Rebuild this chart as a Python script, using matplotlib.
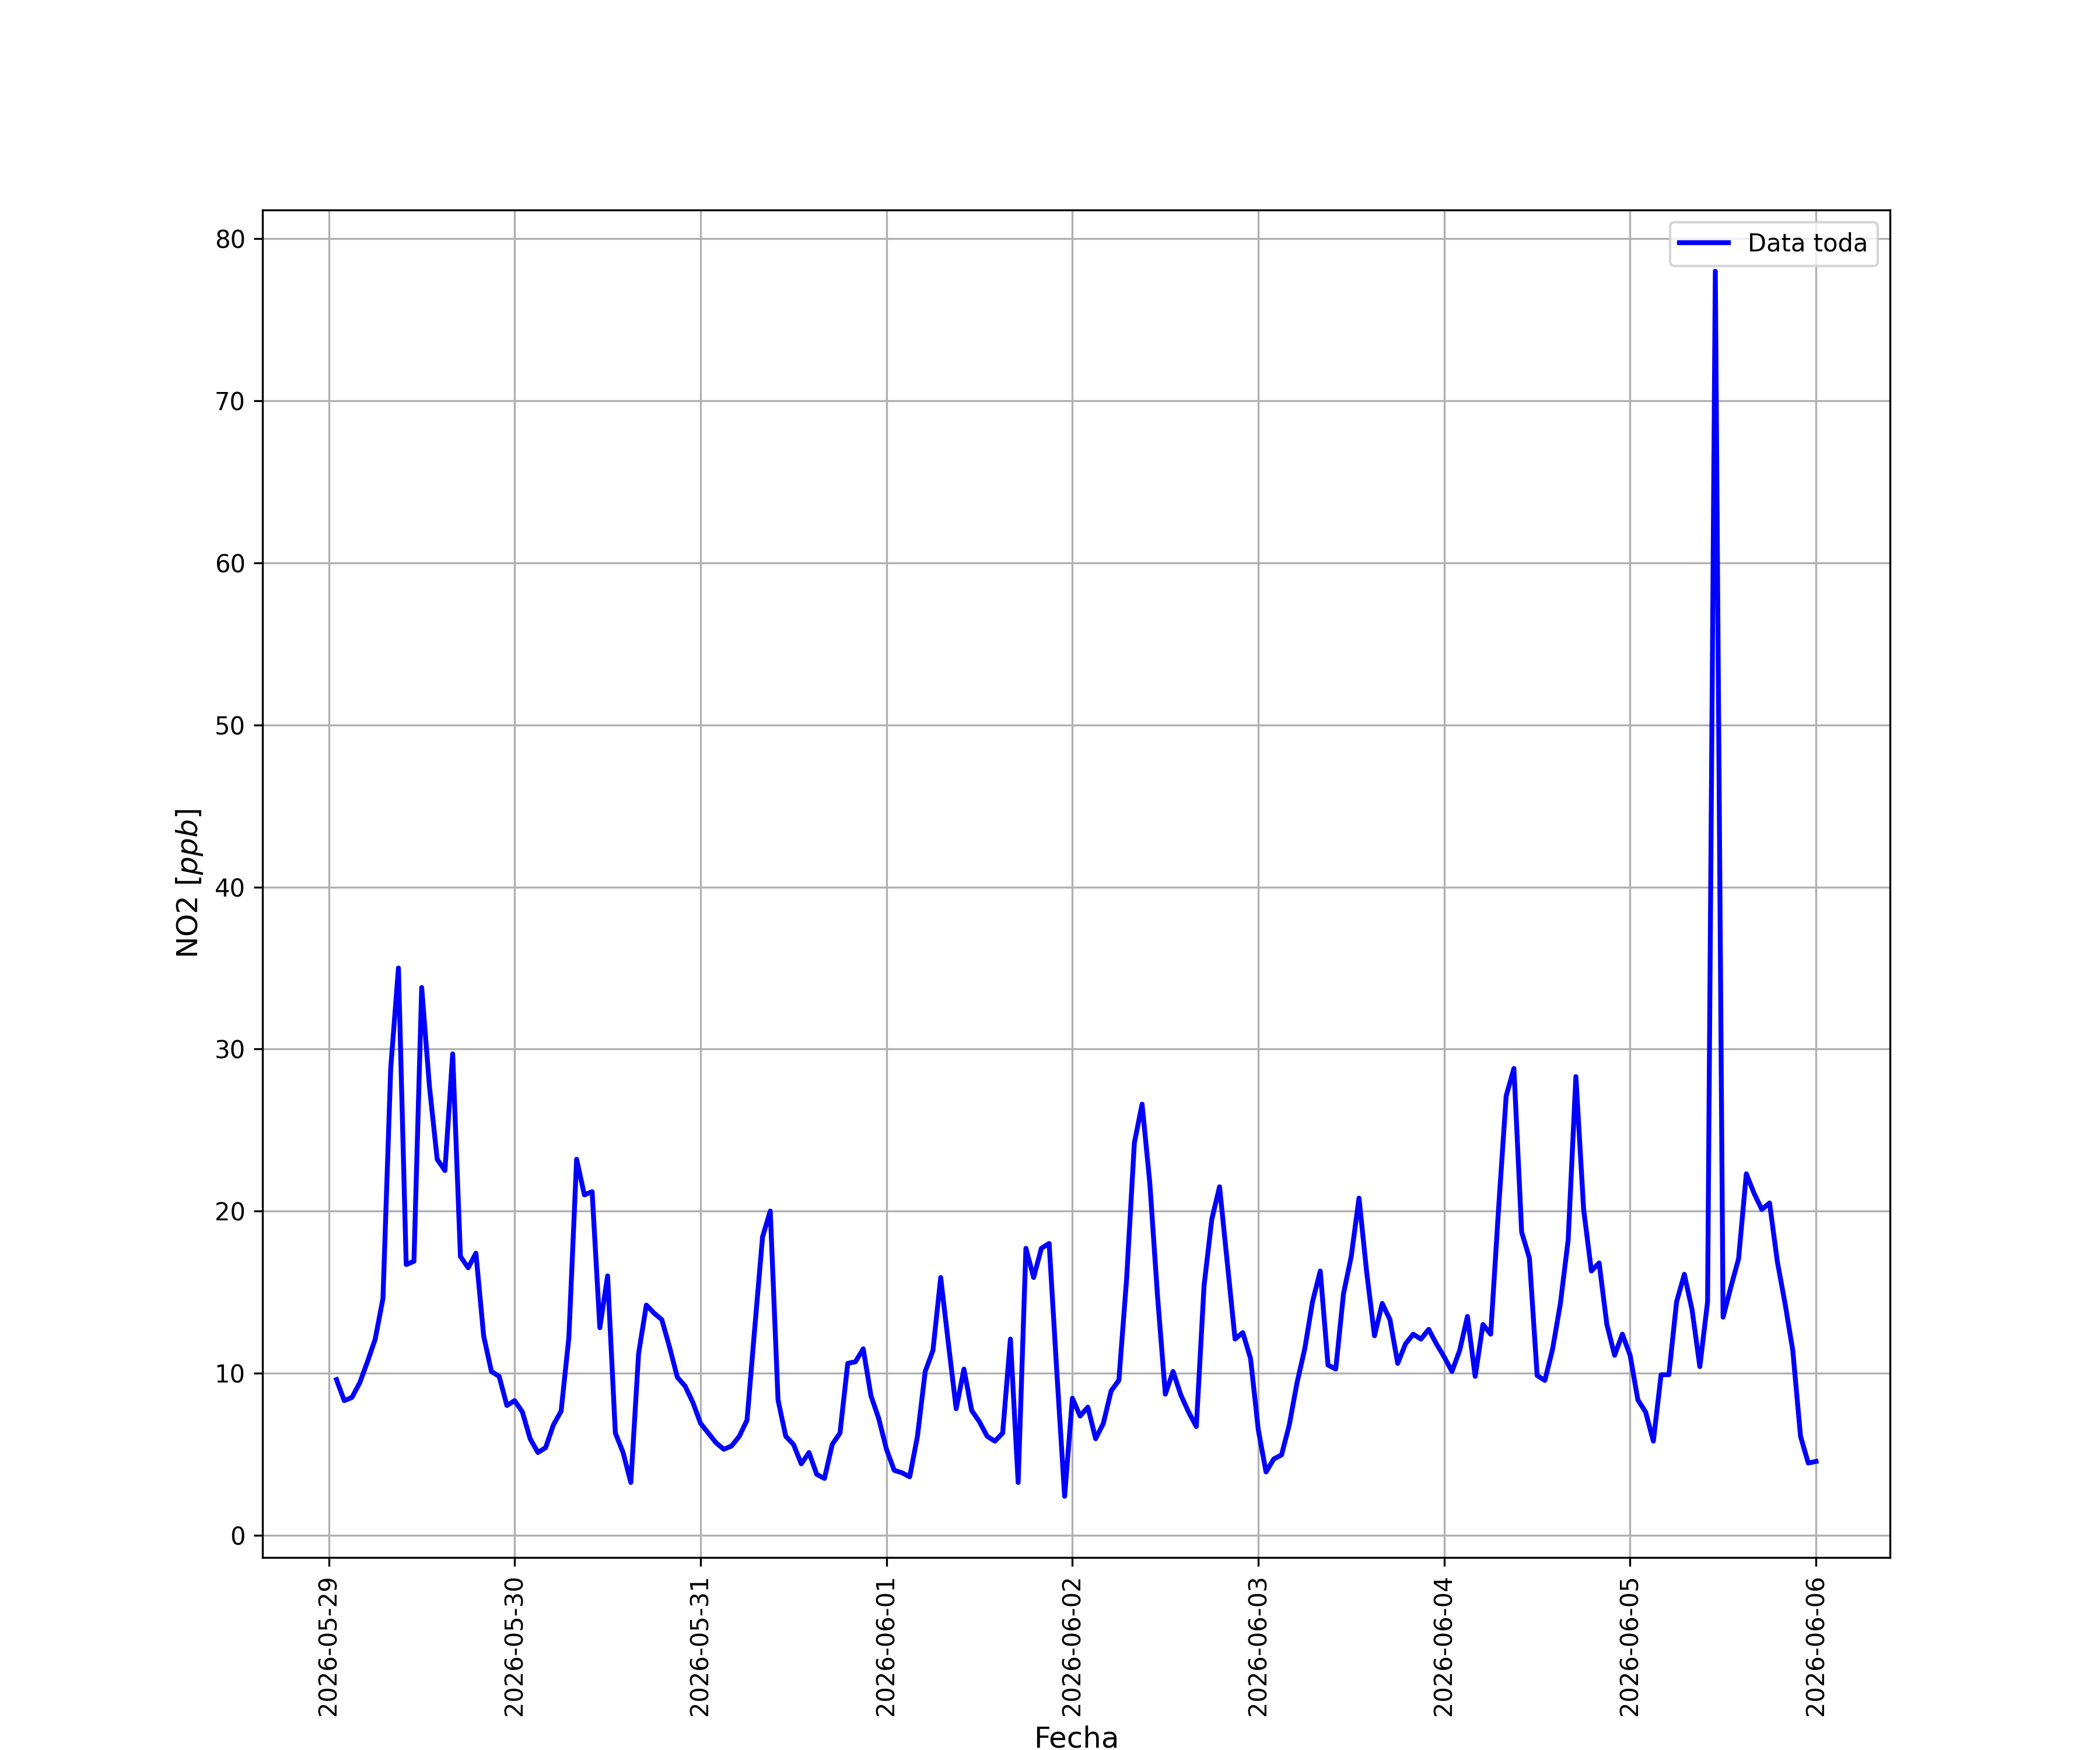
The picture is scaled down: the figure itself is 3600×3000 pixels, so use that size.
import matplotlib
matplotlib.use("Agg")
import matplotlib.pyplot as plt
import matplotlib.dates as mdates
import pandas as pd

# NO2 hourly values (ppb), one list per day, starting 2026-05-29 01:00
dia_0529 = [9.6, 8.3, 8.5, 9.4, 10.7, 12.1, 14.6, 28.8, 35.0, 16.7, 16.9, 33.8,
            27.7, 23.2, 22.5, 29.7, 17.2, 16.5, 17.4, 12.3, 10.1, 9.8, 8.0, 8.3]
dia_0530 = [7.6, 5.95, 5.1, 5.4, 6.8, 7.65, 12.2, 23.2, 21.0, 21.2, 12.8, 16.0,
            6.3, 5.1, 3.25, 11.2, 14.2, 13.7, 13.3, 11.6, 9.75, 9.2, 8.2, 6.9]
dia_0531 = [6.3, 5.7, 5.3, 5.5, 6.1, 7.1, 12.8, 18.4, 20.0, 8.35, 6.1, 5.6,
            4.4, 5.1, 3.75, 3.5, 5.6, 6.3, 10.6, 10.7, 11.5, 8.6, 7.2, 5.3]
dia_0601 = [4.0, 3.85, 3.6, 6.1, 10.1, 11.4, 15.9, 11.8, 7.8, 10.25, 7.7, 7.0,
            6.1, 5.8, 6.3, 12.1, 3.25, 17.7, 15.9, 17.7, 18.0, 10.0, 2.4, 8.45]
dia_0602 = [7.35, 7.9, 5.95, 6.9, 8.9, 9.55, 15.8, 24.2, 26.6, 21.7, 14.7, 8.7,
            10.1, 8.65, 7.6, 6.7, 15.4, 19.5, 21.5, 16.8, 12.1, 12.5, 10.9, 6.5]
dia_0603 = [3.9, 4.7, 4.95, 6.8, 9.4, 11.5, 14.4, 16.3, 10.5, 10.25, 14.9, 17.2,
            20.8, 16.2, 12.3, 14.3, 13.3, 10.6, 11.8, 12.4, 12.1, 12.7, 11.8, 11.0]
dia_0604 = [10.1, 11.4, 13.5, 9.8, 13.0, 12.4, 20.0, 27.1, 28.8, 18.7, 17.1, 9.85,
            9.55, 11.5, 14.3, 18.2, 28.3, 20.1, 16.3, 16.8, 13.0, 11.1, 12.4, 11.1]
dia_0605 = [8.35, 7.6, 5.8, 9.9, 9.9, 14.4, 16.1, 13.9, 10.4, 14.4, 78.0, 13.45,
            15.3, 17.05, 22.3, 21.1, 20.1, 20.5, 16.9, 14.3, 11.4, 6.1, 4.45, 4.55]

no2 = dia_0529 + dia_0530 + dia_0531 + dia_0601 + dia_0602 + dia_0603 + dia_0604 + dia_0605
fechas = pd.date_range("2026-05-29 01:00", periods=len(no2), freq="h")

fig = plt.figure(figsize=(12, 10))
ax = fig.add_subplot(111)
ax.plot(fechas, no2, color="blue", linewidth=2, label="Data toda")

ax.xaxis.set_major_locator(mdates.DayLocator())
ax.xaxis.set_major_formatter(mdates.DateFormatter("%Y-%m-%d"))
plt.xticks(rotation=90)
ax.grid(True)
ax.legend(loc="upper right")
ax.set_xlabel("Fecha", fontsize=12)
ax.set_ylabel("NO2 [$ppb$]", fontsize=12)

fig.savefig("out.png", dpi=300)
